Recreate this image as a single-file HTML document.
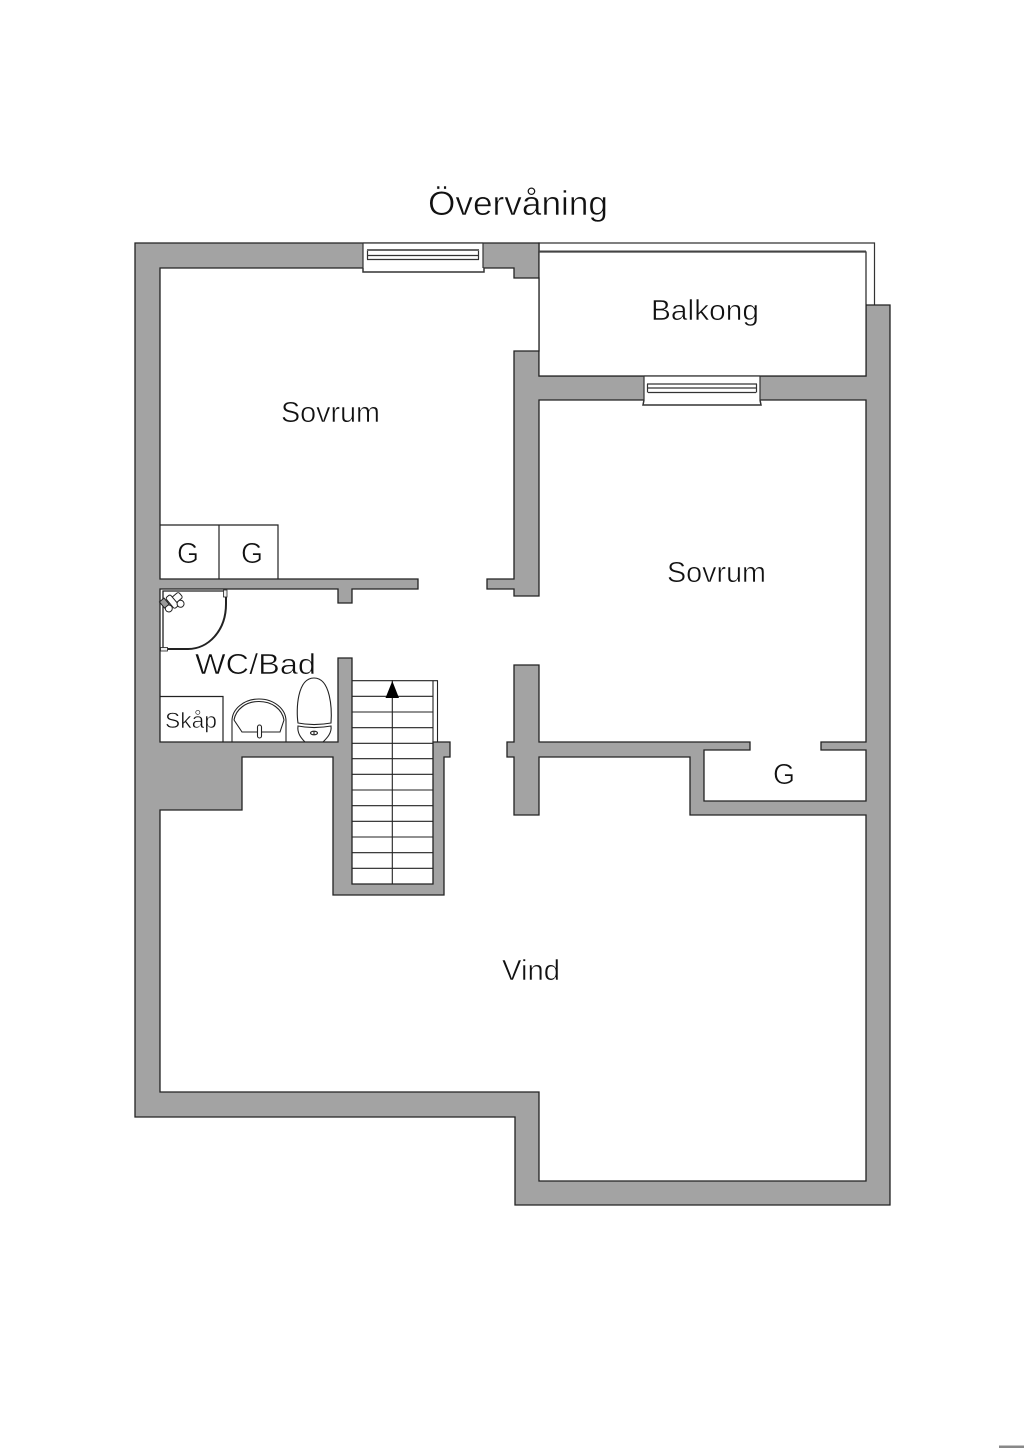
<!DOCTYPE html>
<html><head><meta charset="utf-8"><style>
html,body{margin:0;padding:0;background:#fff}
svg{display:block}
text{font-family:"Liberation Sans",sans-serif;fill:#111;stroke:#fff;stroke-width:.55px}
</style></head><body>
<svg width="1024" height="1448" viewBox="0 0 1024 1448" xmlns="http://www.w3.org/2000/svg">
<rect width="1024" height="1448" fill="#fff"/>
<path d="M539 252V243H874.5V305" fill="none" stroke="#333" stroke-width="1.2"/>
<polygon points="135,243 539,243 539,376 866,376 866,305 890,305 890,1205 515,1205 515,1117 135,1117" fill="#a3a3a3" stroke="#222" stroke-width="1.3"/>
<polygon points="539,252 866,252 866,376 539,376" fill="#fff" stroke="#222" stroke-width="1.2"/>
<path d="M539 251.500H866" stroke="#444" stroke-width="2" fill="none"/>
<polygon points="160,268 514,268 514,278 539,278 539,351 514,351 514,579 487,579 487,589 514,589 514,596 539,596 539,400 866,400 866,742 821,742 821,750 866,750 866,801 704,801 704,750 750,750 750,742 539,742 539,665 514,665 514,742 507,742 507,757 514,757 514,815 539,815 539,757 690,757 690,815 866,815 866,1181 539,1181 539,1092 160,1092 160,810 242,810 242,757 333,757 333,895 444,895 444,757 450,757 450,742 433,742 433,884 352,884 352,658 338,658 338,742 160,742 160,589 338,589 338,603 352,603 352,589 418,589 418,579 160,579" fill="#fff" stroke="#222" stroke-width="1.3"/>
<!-- top window -->
<g fill="#fff" stroke="#333" stroke-width="1.200">
<rect x="363" y="243" width="120" height="25" stroke="none"/>
<path d="M363 243H483M363 243V268M483 243V268"/>
<path d="M363 268V272H484V268" stroke-width="1.500"/>
<path d="M367 250H479M367 255.500H479M367 259.500H479" fill="none"/>
<path d="M367.500 250V259.500M478.500 250V259.500" fill="none"/>
</g>
<path d="M367 250H479" stroke="#666" stroke-width="2"/>
<!-- lower window -->
<g fill="#fff" stroke="#333" stroke-width="1.200">
<rect x="644" y="376" width="116" height="25" stroke="none"/>
<path d="M644 376H760M644 376V400M760 376V400"/>
<path d="M644 400L643 405H761L760 400" stroke-width="1.500"/>
<path d="M647 384H757M648 388H756M648 392.500H756" fill="none"/>
<path d="M647.500 384V392.500M756.500 384V392.500" fill="none"/>
</g>
<!-- closets -->
<g fill="none" stroke="#222" stroke-width="1.200">
<path d="M160 525H278V579M219 525V579"/>
<path d="M160 696.500H223V742"/>
</g>
<!-- shower -->
<g fill="none" stroke="#222">
<path d="M163 649V591H225" stroke-width="1.300"/>
<path d="M163 649H188C208 649 226 631 226 604V592" stroke-width="2"/>
<rect x="223.500" y="590" width="3.500" height="7" fill="#eee" stroke-width=".8"/>
<rect x="160.500" y="647.500" width="7" height="3.500" fill="#eee" stroke-width=".8"/>
<g transform="translate(173 601) rotate(-40)" fill="#fff" stroke-width="1">
<rect x="-10" y="-3.500" width="20" height="7" rx="2"/>
<rect x="-4" y="-7" width="6" height="14" rx="2"/>
<circle cx="-8" cy="3" r="3.500"/>
<circle cx="4" cy="7" r="3.500"/>
<rect x="-11" y="-8" width="6" height="8" fill="#999"/>
</g>
</g>
<!-- sink -->
<g fill="none" stroke="#222" stroke-width="1.100">
<path d="M232 742V721C232 709 244 699 259 699C274 699 286 709 286 721V742"/>
<path d="M234 720C236 709 246 701.500 259 701.500C272 701.500 282 709 284 720"/>
<path d="M234 720L242 732H280L284 720"/>
<rect x="257.500" y="725" width="4" height="13" rx="2" fill="#fff"/>
</g>
<!-- toilet -->
<g fill="none" stroke="#222" stroke-width="1.100">
<path d="M298 723C296 710 297 678 314 678C331 678 332 710 331 723C320 725 308 725 298 723Z"/>
<path d="M298 726C308 728 320 728 331 726C332 733 327 738 323 742H305C301 738 297 733 298 726Z"/>
<ellipse cx="314" cy="733" rx="3.500" ry="1.800"/>
<path d="M314 731V735"/>
</g>
<!-- stairs -->
<g stroke="#222" stroke-width="1.100" fill="none">
<path d="M352 680.700H438M437.500 680.700V742M433 680.700V742"/>
<path d="M352 696.300H433M352 712H433M352 727.700H433M352 743.300H433M352 758.700H433M352 774.300H433M352 790H433M352 805.700H433M352 821.300H433M352 837H433M352 852.700H433M352 868.300H433"/>
<path d="M392.300 680V884"/>
</g>
<polygon points="392.300,681 385.500,698 399,698" fill="#000"/>
<!-- bottom-right mark -->
<rect x="999" y="1445.500" width="25" height="2.500" fill="#888"/>
<!-- labels -->
<text x="428" y="215" font-size="34" textLength="180" lengthAdjust="spacingAndGlyphs">Övervåning</text>
<text x="651" y="320" font-size="29" textLength="108" lengthAdjust="spacingAndGlyphs">Balkong</text>
<text x="281" y="422" font-size="29" textLength="99" lengthAdjust="spacingAndGlyphs">Sovrum</text>
<text x="667" y="582" font-size="29" textLength="99" lengthAdjust="spacingAndGlyphs">Sovrum</text>
<text x="177" y="563" font-size="29" textLength="22" lengthAdjust="spacingAndGlyphs">G</text>
<text x="241" y="563" font-size="29" textLength="22" lengthAdjust="spacingAndGlyphs">G</text>
<text x="773" y="784" font-size="29" textLength="22" lengthAdjust="spacingAndGlyphs">G</text>
<text x="195" y="674" font-size="29" textLength="121" lengthAdjust="spacingAndGlyphs">WC/Bad</text>
<text x="165" y="728" font-size="22" textLength="52" lengthAdjust="spacingAndGlyphs">Skåp</text>
<text x="502" y="980" font-size="29" textLength="58" lengthAdjust="spacingAndGlyphs">Vind</text>
</svg>
</body></html>
